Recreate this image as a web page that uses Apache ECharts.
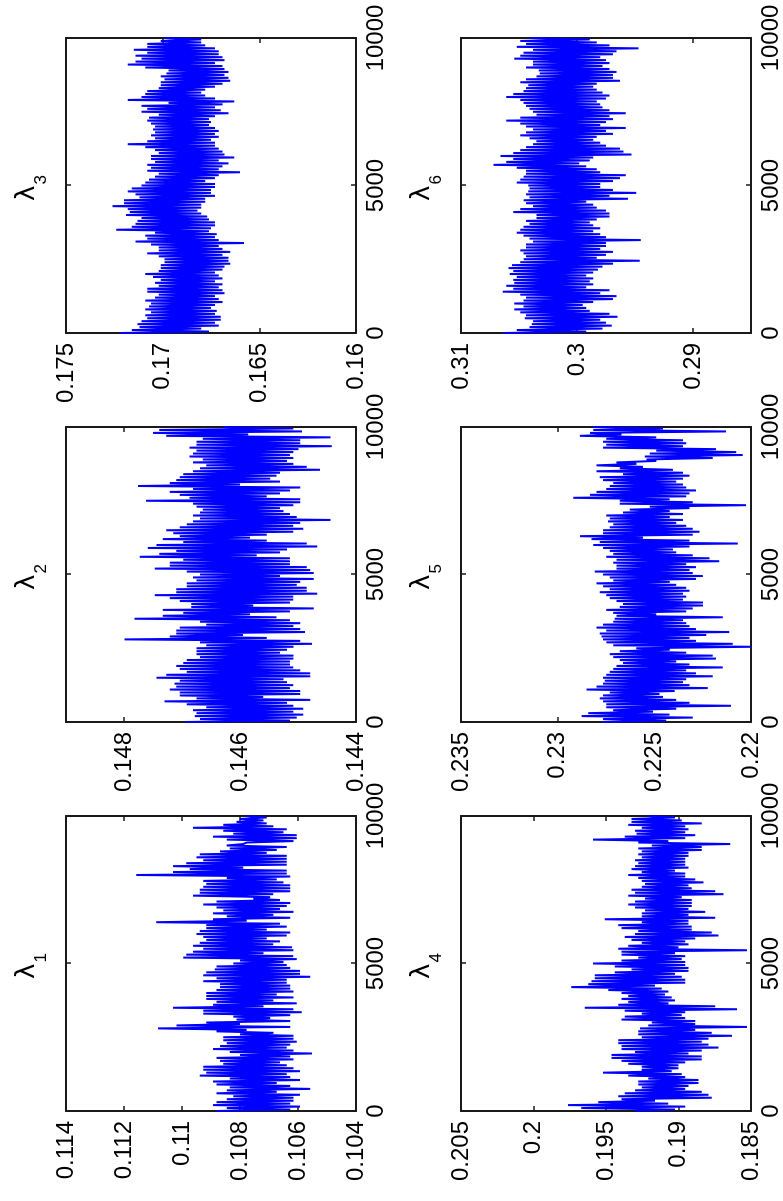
<!DOCTYPE html>
<html>
<head>
<meta charset="utf-8">
<title>MCMC traces of lambda</title>
<script src="https://cdn.jsdelivr.net/npm/echarts@6/dist/echarts.min.js"></script>
<style>
  html, body { margin: 0; padding: 0; width: 783px; height: 1201px; overflow: hidden; background: #fff; }
  /* the figure is laid out landscape and turned a quarter turn counter-clockwise */
  #chart { position: absolute; left: 0; top: 0; width: 1201px; height: 783px;
           transform-origin: 0 0; transform: translateY(1201px) rotate(-90deg); }
</style>
</head>
<body>
<div id="chart"></div>
<script>
// Trace samples, one every ITER_STEP iterations from 0 to 10000
const ITER_STEP = 50;
const ITER_MAX = 10000;
const ITER_TICKS = 5000;

const lambda1 = [
  0.10881,0.10627,0.10846,0.10593,0.10893,0.10627,0.10881,0.10616,0.10846,0.10616,
  0.10823,0.10593,0.10881,0.10673,0.10846,0.10558,0.10835,0.10627,0.10881,0.10673,
  0.10893,0.10593,0.10835,0.10627,0.10939,0.10639,0.10916,0.10593,0.10927,0.10616,
  0.10927,0.10639,0.10858,0.10662,0.10869,0.10616,0.10881,0.10627,0.10800,0.10552,
  0.10835,0.10616,0.10893,0.10639,0.10869,0.10627,0.10846,0.10604,0.10858,0.10616,
  0.10858,0.10616,0.10800,0.10685,0.10881,0.10777,0.11083,0.10627,0.11019,0.10800,
  0.10916,0.10627,0.10812,0.10696,0.10823,0.10627,0.10927,0.10587,0.10927,0.10616,
  0.11031,0.10719,0.10893,0.10604,0.10881,0.10685,0.10916,0.10616,0.10916,0.10673,
  0.10916,0.10616,0.10881,0.10627,0.10869,0.10627,0.10869,0.10639,0.10927,0.10639,
  0.10881,0.10558,0.10927,0.10593,0.10916,0.10593,0.10887,0.10627,0.10881,0.10639,
  0.10823,0.10650,0.10800,0.10604,0.10996,0.10616,0.10985,0.10719,0.10962,0.10616,
  0.10927,0.10621,0.10962,0.10685,0.10939,0.10662,0.10916,0.10708,0.10927,0.10639,
  0.10950,0.10627,0.10939,0.10708,0.10916,0.10639,0.10916,0.10662,0.11089,0.10777,
  0.10893,0.10627,0.10846,0.10685,0.10893,0.10616,0.10858,0.10662,0.10881,0.10639,
  0.10927,0.10627,0.10881,0.10662,0.10754,0.10696,0.10962,0.10685,0.10939,0.10627,
  0.10939,0.10627,0.10927,0.10627,0.10916,0.10650,0.10927,0.10673,0.10846,0.10627,
  0.11158,0.10639,0.11031,0.10639,0.10973,0.10789,0.11031,0.10639,0.10985,0.10639,
  0.10927,0.10639,0.10950,0.10639,0.10939,0.10708,0.10869,0.10673,0.10835,0.10639,
  0.10846,0.10789,0.10777,0.10616,0.10846,0.10604,0.10893,0.10604,0.10823,0.10650,
  0.10858,0.10639,0.10962,0.10685,0.10858,0.10708,0.10812,0.10719,0.10800,0.10708,0.10777
];
const lambda2 = [
  0.14695,0.14514,0.14669,0.14502,0.14678,0.14491,0.14675,0.14508,0.14681,0.14491,
  0.14658,0.14508,0.14692,0.14519,0.14730,0.14479,0.14675,0.14560,0.14704,0.14496,
  0.14704,0.14496,0.14721,0.14514,0.14710,0.14508,0.14713,0.14519,0.14704,0.14525,
  0.14744,0.14479,0.14727,0.14479,0.14692,0.14496,0.14704,0.14508,0.14710,0.14514,
  0.14698,0.14514,0.14692,0.14508,0.14669,0.14508,0.14675,0.14531,0.14675,0.14519,
  0.14675,0.14508,0.14658,0.14476,0.14669,0.14496,0.14799,0.14554,0.14721,0.14595,
  0.14710,0.14488,0.14710,0.14496,0.14704,0.14508,0.14658,0.14496,0.14669,0.14514,
  0.14782,0.14537,0.14733,0.14583,0.14698,0.14514,0.14733,0.14473,0.14684,0.14577,
  0.14684,0.14514,0.14704,0.14508,0.14721,0.14508,0.14747,0.14467,0.14710,0.14485,
  0.14710,0.14485,0.14692,0.14502,0.14692,0.14496,0.14675,0.14473,0.14681,0.14531,
  0.14669,0.14473,0.14692,0.14479,0.14747,0.14485,0.14721,0.14514,0.14721,0.14514,
  0.14698,0.14514,0.14773,0.14571,0.14739,0.14531,0.14710,0.14519,0.14759,0.14467,
  0.14744,0.14485,0.14698,0.14554,0.14733,0.14583,0.14704,0.14554,0.14715,0.14508,
  0.14727,0.14491,0.14704,0.14508,0.14692,0.14496,0.14681,0.14444,0.14669,0.14502,
  0.14681,0.14514,0.14669,0.14525,0.14664,0.14531,0.14675,0.14508,0.14681,0.14496,
  0.14762,0.14496,0.14687,0.14554,0.14704,0.14531,0.14721,0.14514,0.14681,0.14496,
  0.14776,0.14600,0.14721,0.14531,0.14710,0.14548,0.14704,0.14537,0.14698,0.14531,
  0.14681,0.14462,0.14669,0.14485,0.14658,0.14508,0.14681,0.14519,0.14664,0.14508,
  0.14687,0.14514,0.14681,0.14508,0.14675,0.14499,0.14687,0.14442,0.14675,0.14496,
  0.14675,0.14496,0.14664,0.14444,0.14727,0.14586,0.14750,0.14493,0.14739,0.14508,0.14629
];
const lambda3 = [
  0.1722,0.1676,0.1716,0.1680,0.1712,0.1671,0.1713,0.1673,0.1711,0.1670,
  0.1708,0.1670,0.1709,0.1673,0.1706,0.1672,0.1709,0.1675,0.1707,0.1673,
  0.1706,0.1669,0.1709,0.1671,0.1704,0.1673,0.1702,0.1668,0.1708,0.1669,
  0.1708,0.1671,0.1702,0.1669,0.1704,0.1673,0.1701,0.1669,0.1705,0.1671,
  0.1709,0.1673,0.1702,0.1669,0.1701,0.1668,0.1701,0.1665,0.1699,0.1666,
  0.1699,0.1666,0.1702,0.1669,0.1708,0.1665,0.1702,0.1669,0.1702,0.1671,
  0.1706,0.1658,0.1714,0.1671,0.1708,0.1673,0.1709,0.1672,0.1704,0.1676,
  0.1724,0.1675,0.1716,0.1673,0.1714,0.1673,0.1713,0.1676,0.1711,0.1677,
  0.1719,0.1680,0.1717,0.1682,0.1718,0.1680,0.1726,0.1680,0.1720,0.1678,
  0.1720,0.1678,0.1712,0.1673,0.1714,0.1675,0.1718,0.1675,0.1716,0.1673,
  0.1711,0.1673,0.1709,0.1678,0.1707,0.1673,0.1704,0.1671,0.1702,0.1660,
  0.1708,0.1671,0.1706,0.1669,0.1708,0.1666,0.1704,0.1671,0.1706,0.1663,
  0.1706,0.1668,0.1702,0.1669,0.1704,0.1671,0.1709,0.1673,0.1718,0.1673,
  0.1708,0.1675,0.1704,0.1671,0.1706,0.1673,0.1704,0.1671,0.1705,0.1673,
  0.1704,0.1676,0.1706,0.1675,0.1708,0.1676,0.1707,0.1673,0.1702,0.1666,
  0.1711,0.1670,0.1708,0.1673,0.1711,0.1669,0.1697,0.1663,0.1718,0.1673,
  0.1711,0.1678,0.1709,0.1680,0.1708,0.1678,0.1702,0.1673,0.1701,0.1669,
  0.1701,0.1665,0.1699,0.1666,0.1701,0.1668,0.1698,0.1666,0.1697,0.1668,
  0.1709,0.1669,0.1718,0.1673,0.1714,0.1668,0.1711,0.1669,0.1714,0.1671,
  0.1708,0.1671,0.1715,0.1673,0.1708,0.1678,0.1708,0.1680,0.1701,0.1680,0.1699
];
const lambda4 = [
  0.19300,0.19024,0.19670,0.18954,0.19762,0.19070,0.19554,0.19162,0.19393,0.18770,
  0.19416,0.18793,0.19370,0.18839,0.19300,0.18954,0.19254,0.18931,0.19277,0.18862,
  0.19277,0.18862,0.19208,0.18954,0.19347,0.18978,0.19520,0.19047,0.19254,0.19001,
  0.19254,0.19001,0.19347,0.18954,0.19393,0.18839,0.19462,0.18839,0.19462,0.18931,
  0.19300,0.18839,0.19393,0.18724,0.19393,0.18793,0.19416,0.18839,0.19416,0.18793,
  0.19254,0.18632,0.19277,0.18770,0.19277,0.18885,0.19266,0.18528,0.19208,0.18885,
  0.19185,0.18885,0.19393,0.18954,0.19370,0.18978,0.19254,0.18954,0.19370,0.18597,
  0.19647,0.18747,0.19416,0.19070,0.19347,0.19024,0.19393,0.19047,0.19347,0.19093,
  0.19393,0.19070,0.19485,0.19116,0.19739,0.19162,0.19623,0.18954,0.19600,0.18954,
  0.19577,0.18978,0.19577,0.19024,0.19439,0.18931,0.19324,0.18931,0.19439,0.18954,
  0.19589,0.18954,0.19393,0.18978,0.19277,0.18954,0.19393,0.19024,0.19393,0.18528,
  0.19416,0.19001,0.19347,0.18931,0.19254,0.18954,0.19324,0.18885,0.19370,0.18724,
  0.19300,0.18770,0.19277,0.18908,0.19393,0.18908,0.19416,0.18931,0.19254,0.18931,
  0.19508,0.18747,0.19254,0.18931,0.19254,0.18816,0.19231,0.18931,0.19300,0.18908,
  0.19347,0.18908,0.19300,0.18908,0.19231,0.18978,0.19347,0.18689,0.19300,0.18747,
  0.19324,0.18908,0.19254,0.18931,0.19231,0.18828,0.19254,0.18885,0.19277,0.18954,
  0.19347,0.18954,0.19254,0.19024,0.19324,0.18931,0.19300,0.18954,0.19277,0.18954,
  0.19300,0.18954,0.19254,0.18931,0.19277,0.18931,0.19254,0.18839,0.19277,0.18839,
  0.19185,0.18643,0.19277,0.19070,0.19589,0.18954,0.19370,0.18885,0.19289,0.18954,
  0.19300,0.18931,0.19254,0.18954,0.19347,0.18839,0.19324,0.18978,0.19324,0.19024,0.19208
];
const lambda5 = [
  0.22773,0.22438,0.22765,0.22301,0.22876,0.22421,0.22842,0.22507,0.22713,0.22387,
  0.22748,0.22103,0.22748,0.22318,0.22765,0.22387,0.22782,0.22455,0.22765,0.22473,
  0.22730,0.22395,0.22851,0.22224,0.22799,0.22318,0.22765,0.22352,0.22756,0.22335,
  0.22765,0.22198,0.22748,0.22284,0.22730,0.22335,0.22713,0.22146,0.22696,0.22318,
  0.22662,0.22387,0.22679,0.22181,0.22713,0.22198,0.22730,0.22335,0.22679,0.22421,
  0.22593,0.22000,0.22713,0.22095,0.22748,0.22284,0.22765,0.22318,0.22773,0.22232,
  0.22782,0.22112,0.22748,0.22284,0.22799,0.22318,0.22765,0.22335,0.22713,0.22352,
  0.22705,0.22146,0.22696,0.22490,0.22713,0.22335,0.22748,0.22301,0.22679,0.22249,
  0.22662,0.22249,0.22696,0.22352,0.22730,0.22335,0.22748,0.22352,0.22782,0.22318,
  0.22730,0.22335,0.22765,0.22387,0.22799,0.22421,0.22713,0.22284,0.22730,0.22249,
  0.22765,0.22301,0.22808,0.22318,0.22696,0.22284,0.22696,0.22335,0.22713,0.22164,
  0.22696,0.22215,0.22748,0.22301,0.22713,0.22387,0.22730,0.22404,0.22765,0.22318,
  0.22816,0.22069,0.22782,0.22318,0.22825,0.22559,0.22885,0.22301,0.22765,0.22266,
  0.22765,0.22301,0.22730,0.22335,0.22713,0.22387,0.22739,0.22352,0.22730,0.22421,
  0.22748,0.22352,0.22662,0.22421,0.22627,0.22318,0.22524,0.22026,0.22679,0.22301,
  0.22679,0.22421,0.22919,0.22335,0.22833,0.22318,0.22799,0.22284,0.22748,0.22335,
  0.22730,0.22352,0.22713,0.22387,0.22765,0.22352,0.22782,0.22318,0.22662,0.22352,
  0.22799,0.22404,0.22679,0.22559,0.22799,0.22593,0.22696,0.22490,0.22541,0.22198,
  0.22550,0.22043,0.22524,0.22077,0.22490,0.22181,0.22765,0.22352,0.22748,0.22335,
  0.22765,0.22352,0.22748,0.22490,0.22885,0.22670,0.22833,0.22129,0.22816,0.22455,0.22816
];
const lambda6 = [
  0.3064,0.2992,0.3052,0.2978,0.3041,0.2970,0.3039,0.2975,0.3038,0.2980,
  0.3045,0.2965,0.3044,0.2972,0.3049,0.2989,0.3054,0.2992,0.3046,0.2995,
  0.3054,0.2986,0.3046,0.2969,0.3044,0.2966,0.3049,0.2980,0.3064,0.2972,
  0.3055,0.2992,0.3061,0.2986,0.3054,0.2989,0.3055,0.2986,0.3052,0.2992,
  0.3058,0.2986,0.3055,0.2982,0.3059,0.2978,0.3056,0.2969,0.3049,0.2946,
  0.3046,0.2983,0.3044,0.2975,0.3046,0.2969,0.3049,0.2980,0.3044,0.2975,
  0.3044,0.2975,0.3038,0.2945,0.3041,0.2975,0.3046,0.2980,0.3052,0.2986,
  0.3049,0.2980,0.3046,0.2986,0.3041,0.2989,0.3044,0.2983,0.3035,0.2972,
  0.3035,0.2972,0.3055,0.2975,0.3049,0.2983,0.3038,0.2986,0.3044,0.2992,
  0.3046,0.2956,0.3041,0.2972,0.3044,0.2949,0.3042,0.2969,0.3041,0.2980,
  0.3042,0.2980,0.3052,0.2969,0.3049,0.2963,0.3046,0.2958,0.3044,0.2980,
  0.3044,0.2983,0.3052,0.2992,0.3072,0.2998,0.3061,0.2989,0.3055,0.2986,
  0.3066,0.2953,0.3055,0.2960,0.3049,0.2963,0.3044,0.2975,0.3038,0.2980,
  0.3035,0.2986,0.3041,0.2983,0.3049,0.2969,0.3044,0.2975,0.3038,0.2958,
  0.3044,0.2980,0.3049,0.2975,0.3061,0.2969,0.3049,0.2972,0.3035,0.2958,
  0.3038,0.2972,0.3041,0.2978,0.3044,0.2980,0.3046,0.2983,0.3049,0.2975,
  0.3061,0.2972,0.3055,0.2978,0.3046,0.2983,0.3044,0.2986,0.3042,0.2983,
  0.3049,0.2963,0.3044,0.2969,0.3035,0.2969,0.3032,0.2966,0.3033,0.2972,
  0.3044,0.2978,0.3038,0.2972,0.3038,0.2975,0.3054,0.2980,0.3049,0.2969,
  0.3046,0.2966,0.3038,0.2947,0.3052,0.2972,0.3044,0.2983,0.3049,0.2989,0.3041
];

// value-axis limits and tick labels of each panel
const lambda1Range = [0.104, 0.114];
const lambda2Range = [0.144, 0.149];
const lambda3Range = [0.16, 0.175];
const lambda4Range = [0.185, 0.205];
const lambda5Range = [0.22, 0.235];
const lambda6Range = [0.285, 0.31];
const lambda1Ticks = [0.104, 0.106, 0.108, 0.11, 0.112, 0.114];
const lambda2Ticks = [0.144, 0.146, 0.148];
const lambda3Ticks = [0.16, 0.165, 0.17, 0.175];
const lambda4Ticks = [0.185, 0.19, 0.195, 0.2, 0.205];
const lambda5Ticks = [0.22, 0.225, 0.23, 0.235];
const lambda6Ticks = [0.29, 0.3, 0.31];
const subscripts = ['1', '2', '3', '4', '5', '6'];

const panels = [
  { values: lambda1, range: lambda1Range, ticks: lambda1Ticks },
  { values: lambda2, range: lambda2Range, ticks: lambda2Ticks },
  { values: lambda3, range: lambda3Range, ticks: lambda3Ticks },
  { values: lambda4, range: lambda4Range, ticks: lambda4Ticks },
  { values: lambda5, range: lambda5Range, ticks: lambda5Ticks },
  { values: lambda6, range: lambda6Range, ticks: lambda6Ticks }
];

// pick a narrow sans face for tick labels when one is installed
function fontAvailable(name) {
  const ctx = document.createElement('canvas').getContext('2d');
  ctx.font = '40px monospace';
  const base = ctx.measureText('10000.5').width;
  ctx.font = '40px "' + name + '", monospace';
  return ctx.measureText('10000.5').width !== base;
}
const narrow = fontAvailable('Liberation Sans Narrow');
const tickFamily = narrow ? '"Liberation Sans Narrow", "Liberation Sans", sans-serif' : '"Liberation Sans", Arial, sans-serif';
const tickSize = narrow ? 29 : 24;

// panel boxes (2 rows x 3 columns)
const COL_LEFT = [90, 479, 868];
const ROW_TOP = [66, 461];
const BOX_W = 295;
const ROW_H = [290, 291];

const INK = '#000';
const BORDER = { color: '#1a1a1a', width: 2 };
const TICK = { show: true, inside: true, length: 5, lineStyle: { color: '#1a1a1a', width: 1.5 } };
const fmtValue = v => String(parseFloat(Number(v).toFixed(4)));
const fmtIter = v => String(Math.round(v));

const grids = [], xAxes = [], yAxes = [], series = [], graphics = [];

panels.forEach((p, i) => {
  const col = i % 3, row = Math.floor(i / 3);
  const left = COL_LEFT[col], top = ROW_TOP[row], height = ROW_H[row];
  grids.push({ left: left, top: top, width: BOX_W, height: height });

  const xBase = { gridIndex: i, type: 'value', min: 0, max: ITER_MAX, interval: ITER_TICKS,
    axisLine: { show: true, onZero: false, lineStyle: BORDER }, axisTick: TICK, splitLine: { show: false } };
  xAxes.push(Object.assign({}, xBase, { position: 'bottom',
    axisLabel: { show: true, formatter: fmtIter, color: INK, fontFamily: tickFamily, fontSize: tickSize, margin: 8 } }));
  xAxes.push(Object.assign({}, xBase, { position: 'top', axisLabel: { show: false } }));

  const yBase = { gridIndex: i, type: 'value', min: p.range[0], max: p.range[1], scale: true,
    axisLine: { show: true, onZero: false, lineStyle: BORDER },
    axisTick: Object.assign({}, TICK, { customValues: p.ticks }), splitLine: { show: false } };
  yAxes.push(Object.assign({}, yBase, { position: 'left',
    axisLabel: { show: true, customValues: p.ticks, formatter: fmtValue, color: INK,
                 fontFamily: tickFamily, fontSize: tickSize, margin: 10 } }));
  yAxes.push(Object.assign({}, yBase, { position: 'right', axisLabel: { show: false } }));

  series.push({
    type: 'line', xAxisIndex: 2 * i, yAxisIndex: 2 * i,
    data: p.values.map((v, k) => [k * ITER_STEP, v]),
    symbol: 'none', showSymbol: false, silent: true, clip: true,
    lineStyle: { color: '#0000ff', width: 2 }
  });

  // panel title: lambda with subscript index
  const cx = left + BOX_W / 2;
  graphics.push({ type: 'text', x: cx, y: top - 39, silent: true,
    style: { text: 'λ', font: '26px "DejaVu Sans", sans-serif', fill: INK, align: 'right', verticalAlign: 'middle' } });
  graphics.push({ type: 'text', x: cx + 1, y: top - 25, silent: true,
    style: { text: subscripts[i], font: '17px "Liberation Sans", sans-serif', fill: INK, align: 'left', verticalAlign: 'middle' } });
});

const chart = echarts.init(document.getElementById('chart'), null, { renderer: 'canvas' });
chart.setOption({
  animation: false,
  backgroundColor: '#fff',
  grid: grids,
  xAxis: xAxes,
  yAxis: yAxes,
  series: series,
  graphic: graphics
});
</script>
</body>
</html>
